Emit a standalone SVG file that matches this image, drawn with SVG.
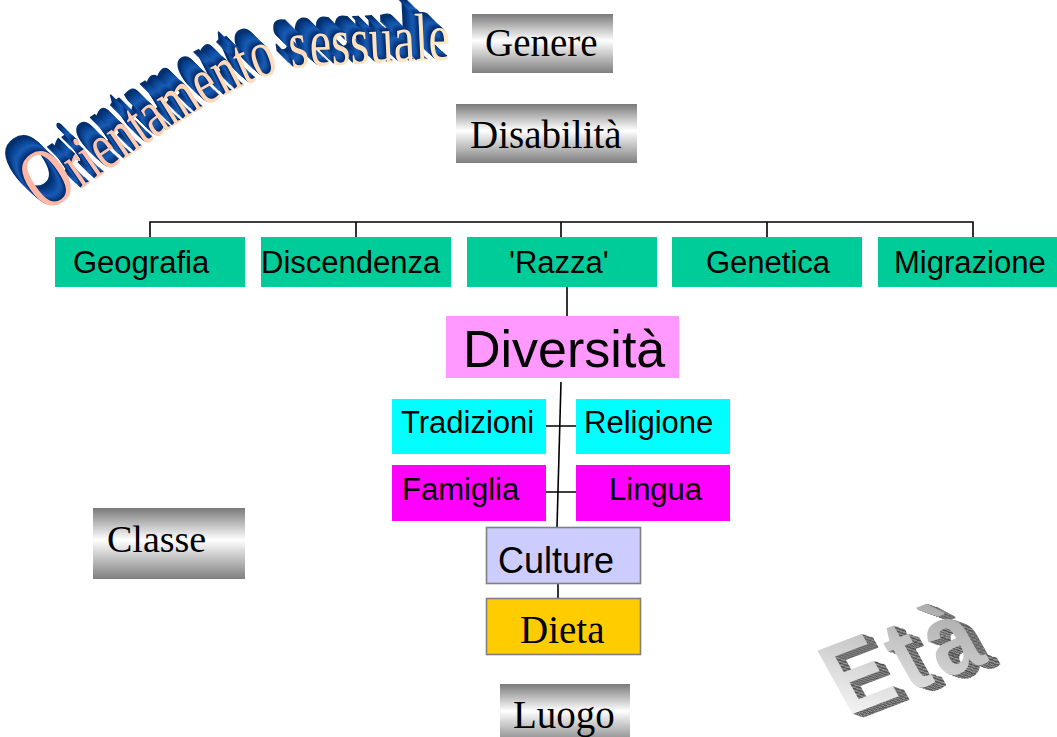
<svg xmlns="http://www.w3.org/2000/svg" width="1057" height="737" viewBox="0 0 1057 737">
<style>
.sans{font-family:"Liberation Sans",Arial,sans-serif;fill:#000}
.serif{font-family:"Liberation Serif","Times New Roman",serif;fill:#000}
.green{fill:#00CC99}
.cyan{fill:#00FFFF}
.mag{fill:#FF00FF}
.silver{fill:url(#silver)}
.conn{stroke:#000;stroke-width:1.6;fill:none}
</style>
<defs>
<linearGradient id="silver" x1="0" y1="0" x2="0" y2="1">
<stop offset="0" stop-color="#7a7a7a"/>
<stop offset="0.45" stop-color="#ffffff"/>
<stop offset="1" stop-color="#7f7f7f"/>
</linearGradient>
<linearGradient id="waFace" gradientUnits="userSpaceOnUse" x1="30" y1="0" x2="450" y2="0">
<stop offset="0" stop-color="#FFB4A4"/>
<stop offset="0.35" stop-color="#FFD6B6"/>
<stop offset="1" stop-color="#FFE8C4"/>
</linearGradient>
<linearGradient id="etaFace" x1="0" y1="1" x2="1" y2="0">
<stop offset="0" stop-color="#ffffff"/>
<stop offset="1" stop-color="#999999"/>
</linearGradient>
<pattern id="checker" patternUnits="userSpaceOnUse" width="4" height="4">
<rect width="4" height="4" fill="#9a9a9a"/>
<rect width="2" height="2" fill="#4a4a4a"/>
<rect x="2" y="2" width="2" height="2" fill="#4a4a4a"/>
</pattern>
<path id="waPath" d="M 44 214 C 160 136, 240 72, 310 66 L 480 58"/>
<text id="waText" font-family="Liberation Serif,Times New Roman,serif" font-size="68"><textPath href="#waPath" textLength="448" lengthAdjust="spacingAndGlyphs"><tspan font-size="86">O</tspan>rientamento sessuale</textPath></text>
<text id="etaText" font-family="Liberation Sans,Arial,sans-serif" font-weight="bold" font-size="100" letter-spacing="9">Età</text>
</defs>

<g id="orientamento">
<use href="#waText" x="-17" y="-16" fill="#03306f"/>
<use href="#waText" x="-16" y="-15" fill="#04326f"/>
<use href="#waText" x="-15" y="-14" fill="#052f72"/>
<use href="#waText" x="-14" y="-13" fill="#063679"/>
<use href="#waText" x="-13" y="-12" fill="#083c84"/>
<use href="#waText" x="-12" y="-11" fill="#0a418e"/>
<use href="#waText" x="-11" y="-10" fill="#0c4797"/>
<use href="#waText" x="-10" y="-9" fill="#0e4c9f"/>
<use href="#waText" x="-9" y="-8" fill="#1151a6"/>
<use href="#waText" x="-8" y="-7" fill="#1556ac"/>
<use href="#waText" x="-7" y="-6" fill="#1a5bb1"/>
<use href="#waText" x="-6" y="-5" fill="#1756aa"/>
<use href="#waText" x="-5" y="-4.5" fill="#1450a3"/>
<use href="#waText" x="-4" y="-3.5" fill="#0f4796"/>
<use href="#waText" x="-3" y="-2.5" fill="#0b3e88"/>
<use href="#waText" x="-2" y="-1.5" fill="#07357a"/>
<use href="#waText" x="-1" y="-0.8" fill="#042e6e"/>
<use href="#waText" fill="url(#waFace)"/>
</g>

<g id="genere"><rect class="silver" x="472" y="14" width="141" height="59"/><text class="serif" x="485" y="56" font-size="39">Genere</text></g>
<g id="disabilita"><rect class="silver" x="456" y="104" width="181" height="59"/><text class="serif" x="470" y="148" font-size="39">Disabilità</text></g>
<g id="classe"><rect class="silver" x="93" y="508" width="152" height="71"/><text class="serif" x="107" y="552" font-size="38">Classe</text></g>
<g id="luogo"><rect class="silver" x="500" y="684" width="130" height="60"/><text class="serif" x="513" y="728" font-size="39">Luogo</text></g>

<g id="connectors">
<path class="conn" d="M150 237 V222 H973 V237 M356 222 V237 M561 222 V237 M767 222 V237"/>
<path class="conn" d="M567 287 V316"/>
<path class="conn" stroke-width="2" d="M561 382 L557 527"/>
<path class="conn" d="M546 426 H576 M546 492 H576"/>
<path class="conn" d="M558 584 V598"/>
</g>

<g id="geografia"><rect class="green" x="55" y="237" width="190" height="50"/><text class="sans" x="73" y="273" font-size="31">Geografia</text></g>
<g id="discendenza"><rect class="green" x="261" y="237" width="190" height="50"/><text class="sans" x="261" y="273" font-size="31">Discendenza</text></g>
<g id="razza"><rect class="green" x="467" y="237" width="190" height="50"/><text class="sans" x="509" y="273" font-size="31">'Razza'</text></g>
<g id="genetica"><rect class="green" x="672" y="237" width="190" height="50"/><text class="sans" x="706" y="273" font-size="31">Genetica</text></g>
<g id="migrazione"><rect class="green" x="878" y="237" width="190" height="50"/><text class="sans" x="894" y="273" font-size="31">Migrazione</text></g>

<g id="diversita"><rect x="446" y="316" width="233" height="62" fill="#FF99FF"/><text class="sans" x="463" y="367" font-size="52">Diversità</text></g>

<g id="tradizioni"><rect class="cyan" x="392" y="399" width="154" height="55"/><text class="sans" x="401" y="433" font-size="31">Tradizioni</text></g>
<g id="religione"><rect class="cyan" x="576" y="399" width="154" height="55"/><text class="sans" x="584" y="433" font-size="31">Religione</text></g>
<g id="famiglia"><rect class="mag" x="392" y="465" width="154" height="56"/><text class="sans" x="402" y="500" font-size="31">Famiglia</text></g>
<g id="lingua"><rect class="mag" x="576" y="465" width="154" height="56"/><text class="sans" x="609" y="500" font-size="31">Lingua</text></g>

<g id="culture"><rect x="486.5" y="527.5" width="154" height="56" fill="#CCCCFF" stroke="#808080" stroke-width="1.6"/><text class="sans" x="498" y="573" font-size="36">Culture</text></g>
<g id="dieta"><rect x="486.5" y="598.5" width="154" height="56" fill="#FFCC00" stroke="#808080" stroke-width="1.6"/><text class="serif" x="520" y="643" font-size="39">Dieta</text></g>

<g id="eta" transform="translate(847,716) rotate(-21) skewX(8) scale(0.88,1.04)">
<use href="#etaText" x="9" y="7" fill="url(#checker)"/>
<use href="#etaText" x="8" y="6" fill="url(#checker)"/>
<use href="#etaText" x="7" y="5.5" fill="url(#checker)"/>
<use href="#etaText" x="6" y="5" fill="url(#checker)"/>
<use href="#etaText" x="5" y="4" fill="url(#checker)"/>
<use href="#etaText" x="4" y="3" fill="url(#checker)"/>
<use href="#etaText" x="3" y="2" fill="url(#checker)"/>
<use href="#etaText" x="2" y="1.5" fill="url(#checker)"/>
<use href="#etaText" x="1" y="0.7" fill="url(#checker)"/>
<use href="#etaText" fill="url(#etaFace)"/>
</g>
</svg>
